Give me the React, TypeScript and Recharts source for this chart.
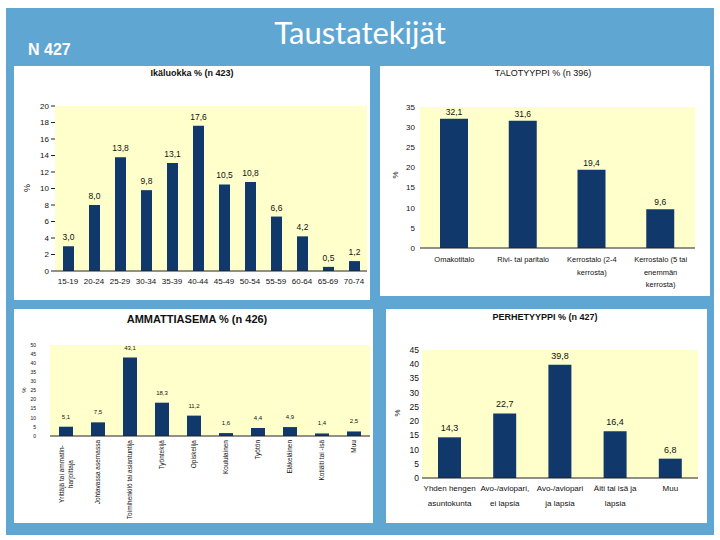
import { BarChart, Bar, XAxis, YAxis, CartesianGrid, LabelList } from 'recharts'

const BAR = '#11386B'
const PLOT_BG = '#FFFFCC'
const SLIDE_BLUE = '#5FA6D3'
const FONT = '"Liberation Sans", Arial, sans-serif'

// Ikäluokka
const ageGroups = ['15-19', '20-24', '25-29', '30-34', '35-39', '40-44', '45-49', '50-54', '55-59', '60-64', '65-69', '70-74']
const ageShares = [3.0, 8.0, 13.8, 9.8, 13.1, 17.6, 10.5, 10.8, 6.6, 4.2, 0.5, 1.2]
const ageTicks = [0, 2, 4, 6, 8, 10, 12, 14, 16, 18, 20]

// Talotyyppi
const houseTypes = ['Omakotitalo', 'Rivi- tai paritalo', 'Kerrostalo (2-4\nkerrosta)', 'Kerrostalo (5 tai\nenemmän\nkerrosta)']
const houseShares = [32.1, 31.6, 19.4, 9.6]
const houseTicks = [0, 5, 10, 15, 20, 25, 30, 35]

// Ammattiasema
const jobTypes = [
  'Yrittäjä tai ammatin-\nharjoittaja',
  'Johtavassa asemassa',
  'Toimihenkilö tai asiantuntija',
  'Työntekijä',
  'Opiskelija',
  'Koululainen',
  'Työtön',
  'Eläkeläinen',
  'Kotiäiti tai -isä',
  'Muu',
]
const jobShares = [5.1, 7.5, 43.1, 18.3, 11.2, 1.6, 4.4, 4.9, 1.4, 2.5]
const jobTicks = [0, 5, 10, 15, 20, 25, 30, 35, 40, 45, 50]

// Perhetyyppi
const familyTypes = ['Yhden hengen\nasuntokunta', 'Avo-/aviopari,\nei lapsia', 'Avo-/aviopari\nja lapsia', 'Äiti tai isä ja\nlapsia', 'Muu']
const familyShares = [14.3, 22.7, 39.8, 16.4, 6.8]
const familyTicks = [0, 5, 10, 15, 20, 25, 30, 35, 40, 45]

const toRows = (names: string[], values: number[]) => names.map((name, i) => ({ name, value: values[i] }))
const fmt = (v: any) => Number(v).toFixed(1).replace('.', ',')

function WrapTick(props: any) {
  const { x, y, payload, fontSize, lineHeight } = props
  const lines = String(payload.value).split('\n')
  return (
    <text x={x} y={y} textAnchor="middle" fontSize={fontSize} fontFamily={FONT} fill="#111">
      {lines.map((l: string, i: number) => (
        <tspan key={i} x={x} dy={i === 0 ? fontSize * 0.8 : lineHeight}>
          {l}
        </tspan>
      ))}
    </text>
  )
}

// rotated labels of the occupation chart, read bottom to top
function RotTick(props: any) {
  const { x, y, payload } = props
  const fs = 6.5
  const lh = 9
  const lines = String(payload.value).split('\n')
  const n = lines.length
  const longest = Math.max(...lines.map((l) => l.length)) * fs * 0.5
  return (
    <g>
      {lines.map((l, i) => (
        <text
          key={i}
          transform={`translate(${x + (i - (n - 1) / 2) * lh + fs * 0.35},${y}) rotate(-90)`}
          x={n > 1 ? -longest / 2 : 0}
          textAnchor={n > 1 ? 'middle' : 'end'}
          fontSize={fs}
          fontFamily={FONT}
          fill="#111"
        >
          {l}
        </text>
      ))}
    </g>
  )
}

type Box = { x: number; y: number; w: number; h: number }

function Panel(props: {
  box: Box
  plot: { l: number; t: number; r: number; b: number }
  yWidth: number
  xHeight: number
  rows: { name: string; value: number }[]
  ticks: number[]
  barSize: number
  title: string
  titleStyle: React.CSSProperties
  titleY: number
  titleX: number
  pct: { x: number; y: number; size: number }
  yFont: number
  yTickLine: boolean
  yMargin: number
  labelFont: number
  labelOffset: number
  xTick: any
  xMargin: number
}) {
  const { box, plot } = props
  const margin = {
    left: plot.l - box.x - props.yWidth,
    top: plot.t - box.y,
    right: box.x + box.w - plot.r,
    bottom: box.y + box.h - plot.b - props.xHeight,
  }
  return (
    <div style={{ position: 'absolute', left: box.x, top: box.y, width: box.w, height: box.h, background: '#fff' }}>
      <div
        style={{
          position: 'absolute',
          left: props.titleX - box.x - 150,
          width: 300,
          top: props.titleY - box.y - 8,
          textAlign: 'center',
          fontFamily: FONT,
          color: '#111',
          whiteSpace: 'nowrap',
          ...props.titleStyle,
        }}
      >
        {props.title}
      </div>
      <div
        style={{
          position: 'absolute',
          left: props.pct.x - box.x - 6,
          top: props.pct.y - box.y - 6,
          width: 12,
          height: 12,
          lineHeight: '12px',
          textAlign: 'center',
          fontFamily: FONT,
          fontSize: props.pct.size,
          color: '#111',
          transform: 'rotate(-90deg)',
        }}
      >
        %
      </div>
      <BarChart width={box.w} height={box.h} data={props.rows} margin={margin} style={{ position: 'absolute', left: 0, top: 0 }}>
        <CartesianGrid fill={PLOT_BG} horizontal={false} vertical={false} />
        <XAxis
          dataKey="name"
          interval={0}
          height={props.xHeight}
          tickLine={false}
          tickSize={0}
          tickMargin={props.xMargin}
          axisLine={{ stroke: '#222', strokeWidth: 1 }}
          tick={props.xTick}
        />
        <YAxis
          type="number"
          domain={[0, props.ticks[props.ticks.length - 1]]}
          ticks={props.ticks}
          interval={0}
          width={props.yWidth}
          axisLine={false}
          tickLine={props.yTickLine ? { stroke: '#222' } : false}
          tickSize={props.yTickLine ? 4 : 0}
          tickMargin={props.yMargin}
          tick={{ fontSize: props.yFont, fontFamily: FONT, fill: '#111' }}
        />
        <Bar dataKey="value" fill={BAR} barSize={props.barSize} isAnimationActive={false}>
          <LabelList
            dataKey="value"
            position="top"
            offset={props.labelOffset}
            formatter={fmt}
            style={{ fontSize: props.labelFont, fontFamily: FONT, fill: '#111' }}
          />
        </Bar>
      </BarChart>
    </div>
  )
}

export default function App() {
  return (
    <div style={{ position: 'absolute', left: 0, top: 0, width: 720, height: 540, background: '#fff', overflow: 'hidden' }}>
      <div style={{ position: 'absolute', left: 6, top: 8, width: 708, height: 527, background: SLIDE_BLUE }} />
      <div
        style={{
          position: 'absolute',
          left: 160,
          width: 400,
          top: 13,
          textAlign: 'center',
          color: '#fff',
          fontFamily: 'Lato, "Open Sans", sans-serif',
          fontSize: 31,
        }}
      >
        Taustatekijät
      </div>
      <div style={{ position: 'absolute', left: 28, top: 41, color: '#fff', fontFamily: FONT, fontWeight: 'bold', fontSize: 16 }}>N 427</div>

      <Panel
        box={{ x: 14, y: 66, w: 356, h: 234 }}
        plot={{ l: 55, t: 106, r: 367, b: 271 }}
        yWidth={30}
        xHeight={22}
        rows={toRows(ageGroups, ageShares)}
        ticks={ageTicks}
        barSize={11}
        title="Ikäluokka % (n 423)"
        titleStyle={{ fontSize: 9, fontWeight: 'bold' }}
        titleX={192}
        titleY={76}
        pct={{ x: 27, y: 188, size: 9 }}
        yFont={8}
        yTickLine={true}
        yMargin={2}
        labelFont={8.5}
        labelOffset={6}
        xMargin={7}
        xTick={(p: any) => <WrapTick {...p} fontSize={8} lineHeight={12} />}
      />

      <Panel
        box={{ x: 380, y: 66, w: 330, h: 230 }}
        plot={{ l: 420, t: 107, r: 695, b: 248 }}
        yWidth={25}
        xHeight={45}
        rows={toRows(houseTypes, houseShares)}
        ticks={houseTicks}
        barSize={28}
        title="TALOTYYPPI % (n 396)"
        titleStyle={{ fontSize: 9 }}
        titleX={543}
        titleY={76}
        pct={{ x: 396, y: 175, size: 8 }}
        yFont={8}
        yTickLine={false}
        yMargin={5}
        labelFont={8.5}
        labelOffset={4}
        xMargin={8}
        xTick={(p: any) => <WrapTick {...p} fontSize={7.5} lineHeight={12.5} />}
      />

      <Panel
        box={{ x: 14, y: 309, w: 359, h: 214 }}
        plot={{ l: 50, t: 345, r: 370, b: 436 }}
        yWidth={20}
        xHeight={84}
        rows={toRows(jobTypes, jobShares)}
        ticks={jobTicks}
        barSize={14}
        title="AMMATTIASEMA % (n 426)"
        titleStyle={{ fontSize: 11, fontWeight: 'bold' }}
        titleX={197}
        titleY={321}
        pct={{ x: 24, y: 390, size: 6 }}
        yFont={5}
        yTickLine={false}
        yMargin={14}
        labelFont={6}
        labelOffset={8}
        xMargin={4}
        xTick={(p: any) => <RotTick {...p} />}
      />

      <Panel
        box={{ x: 386, y: 309, w: 321, h: 214 }}
        plot={{ l: 422, t: 350, r: 698, b: 478 }}
        yWidth={25}
        xHeight={40}
        rows={toRows(familyTypes, familyShares)}
        ticks={familyTicks}
        barSize={23}
        title="PERHETYYPPI % (n 427)"
        titleStyle={{ fontSize: 9, fontWeight: 600 }}
        titleX={545}
        titleY={320}
        pct={{ x: 398, y: 413, size: 8 }}
        yFont={8.5}
        yTickLine={false}
        yMargin={3}
        labelFont={9}
        labelOffset={6}
        xMargin={7}
        xTick={(p: any) => <WrapTick {...p} fontSize={8} lineHeight={14.5} />}
      />
    </div>
  )
}
